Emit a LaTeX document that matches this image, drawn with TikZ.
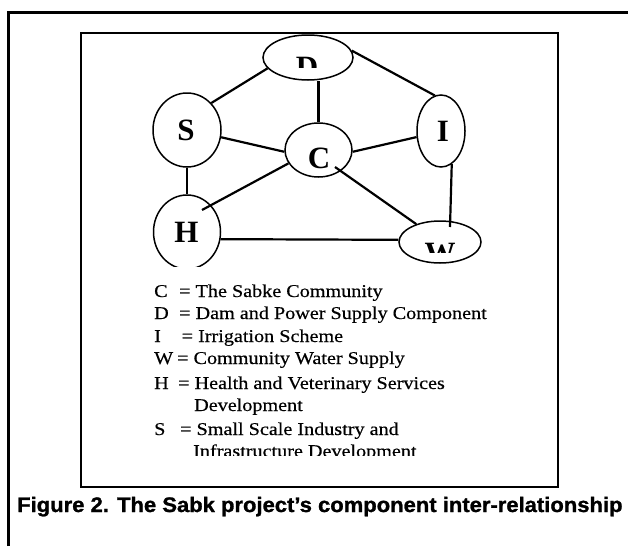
\documentclass[tikz,border=0pt]{standalone}
\usepackage{fontspec}
\setmainfont{Liberation Serif}
\newfontfamily\legendfont[FakeStretch=1.12,FakeBold=0.4]{Liberation Serif}
\newfontfamily\capfont[FakeStretch=1.048,FakeBold=1.2]{Liberation Sans}
\usetikzlibrary{shapes.geometric,calc}
\begin{document}
\begin{tikzpicture}[x=1pt,y=-1pt,
  comp/.style={draw,ellipse,line width=1.5pt,inner sep=0pt},
  letter/.style={font=\fontsize{31}{31}\selectfont\bfseries,anchor=base,inner sep=0pt},
  link/.style={line width=2.2pt},
  leg/.style={font=\legendfont\fontsize{18}{22}\selectfont,anchor=base west,inner sep=0pt},
  capstyle/.style={font=\capfont\bfseries\fontsize{21}{21}\selectfont,anchor=base west,inner sep=0pt},
]
\useasboundingbox (0,0) rectangle (628,546);
\fill[white] (0,0) rectangle (628,546);
% frames
\draw[line width=2.7pt] (8.5,546) -- (8.5,12.8) -- (628,12.8);
\draw[line width=2pt] (81,33) rectangle (557.5,487);
% components
\node[comp,minimum width=90pt,minimum height=45pt] (D) at (308,57.5) {};
\node[comp,minimum width=68pt,minimum height=74pt] (S) at (187,130) {};
\node[comp,minimum width=67pt,minimum height=54pt] (C) at (318.5,150) {};
\node[comp,minimum width=48pt,minimum height=72pt] (I) at (441,131) {};
\begin{scope}
  \clip (0,0) rectangle (628,266);
  \node[comp,minimum width=67pt,minimum height=74pt] (H) at (187,232) {};
\end{scope}
\node[comp,minimum width=82pt,minimum height=42pt] (W) at (440,242) {};
% letters
\node[letter] (lS) at (186,140) {S};
\node[letter] (lC) at (319,168) {C};
\node[letter] (lI) at (443,141) {I};
\node[letter] (lH) at (186.5,242) {H};
\begin{scope}
  \clip (250,30) rectangle (360,67);
  \node[letter] (lD) at (307,77) {D};
\end{scope}
\begin{scope}
  \clip (400,225) rectangle (480,252);
  \node[letter] (lW) at (440,263) {W};
\end{scope}
% connectors
\draw[link] (S.48) -- (D.195);
\draw[link] (D.9) -- (I.100);
\draw[link] (C.north) -- (C.north |- D.south);
\draw[link] (S.-12) -- (C.183);
\draw[link] (C.-3) -- (I.194);
\draw[link] (S.south) -- (H.north);
\draw[link] (C.204) -- ([shift={(15,-22)}]H.center);
\draw[link] ([shift={(16.5,17)}]C.center) -- (W.143);
\draw[link] (I.-72) -- ([shift={(10,-15)}]W.center);
\draw[link] (H.-12) -- (W.177);
% legend
\node[leg] (k1) at (154,297) {C};
\node[leg] (t1) at (179,297) {= The Sabke Community};
\node[leg] (k2) at (154,319) {D};
\node[leg] (t2) at (179,319) {= Dam and Power Supply Component};
\node[leg] (k3) at (154,342) {I};
\node[leg] (t3) at (181.5,342) {= Irrigation Scheme};
\node[leg] (k4) at (154,364) {W};
\node[leg] (t4) at (177,364) {= Community Water Supply};
\node[leg] (k5) at (154,389) {H};
\node[leg] (t5) at (178,389) {= Health and Veterinary Services};
\node[leg] (t6) at (194,411) {Development};
\node[leg] (k7) at (154,435) {S};
\node[leg] (t7) at (180,435) {= Small Scale Industry and};
\begin{scope}
  \clip (150,440) rectangle (500,455.5);
  \node[leg] (t8) at (193,457) {Infrastructure Development};
\end{scope}
% caption
\node[capstyle] (cap) at (17,512) {Figure 2. The Sabk project’s component inter-relationship};
\end{tikzpicture}
\end{document}
